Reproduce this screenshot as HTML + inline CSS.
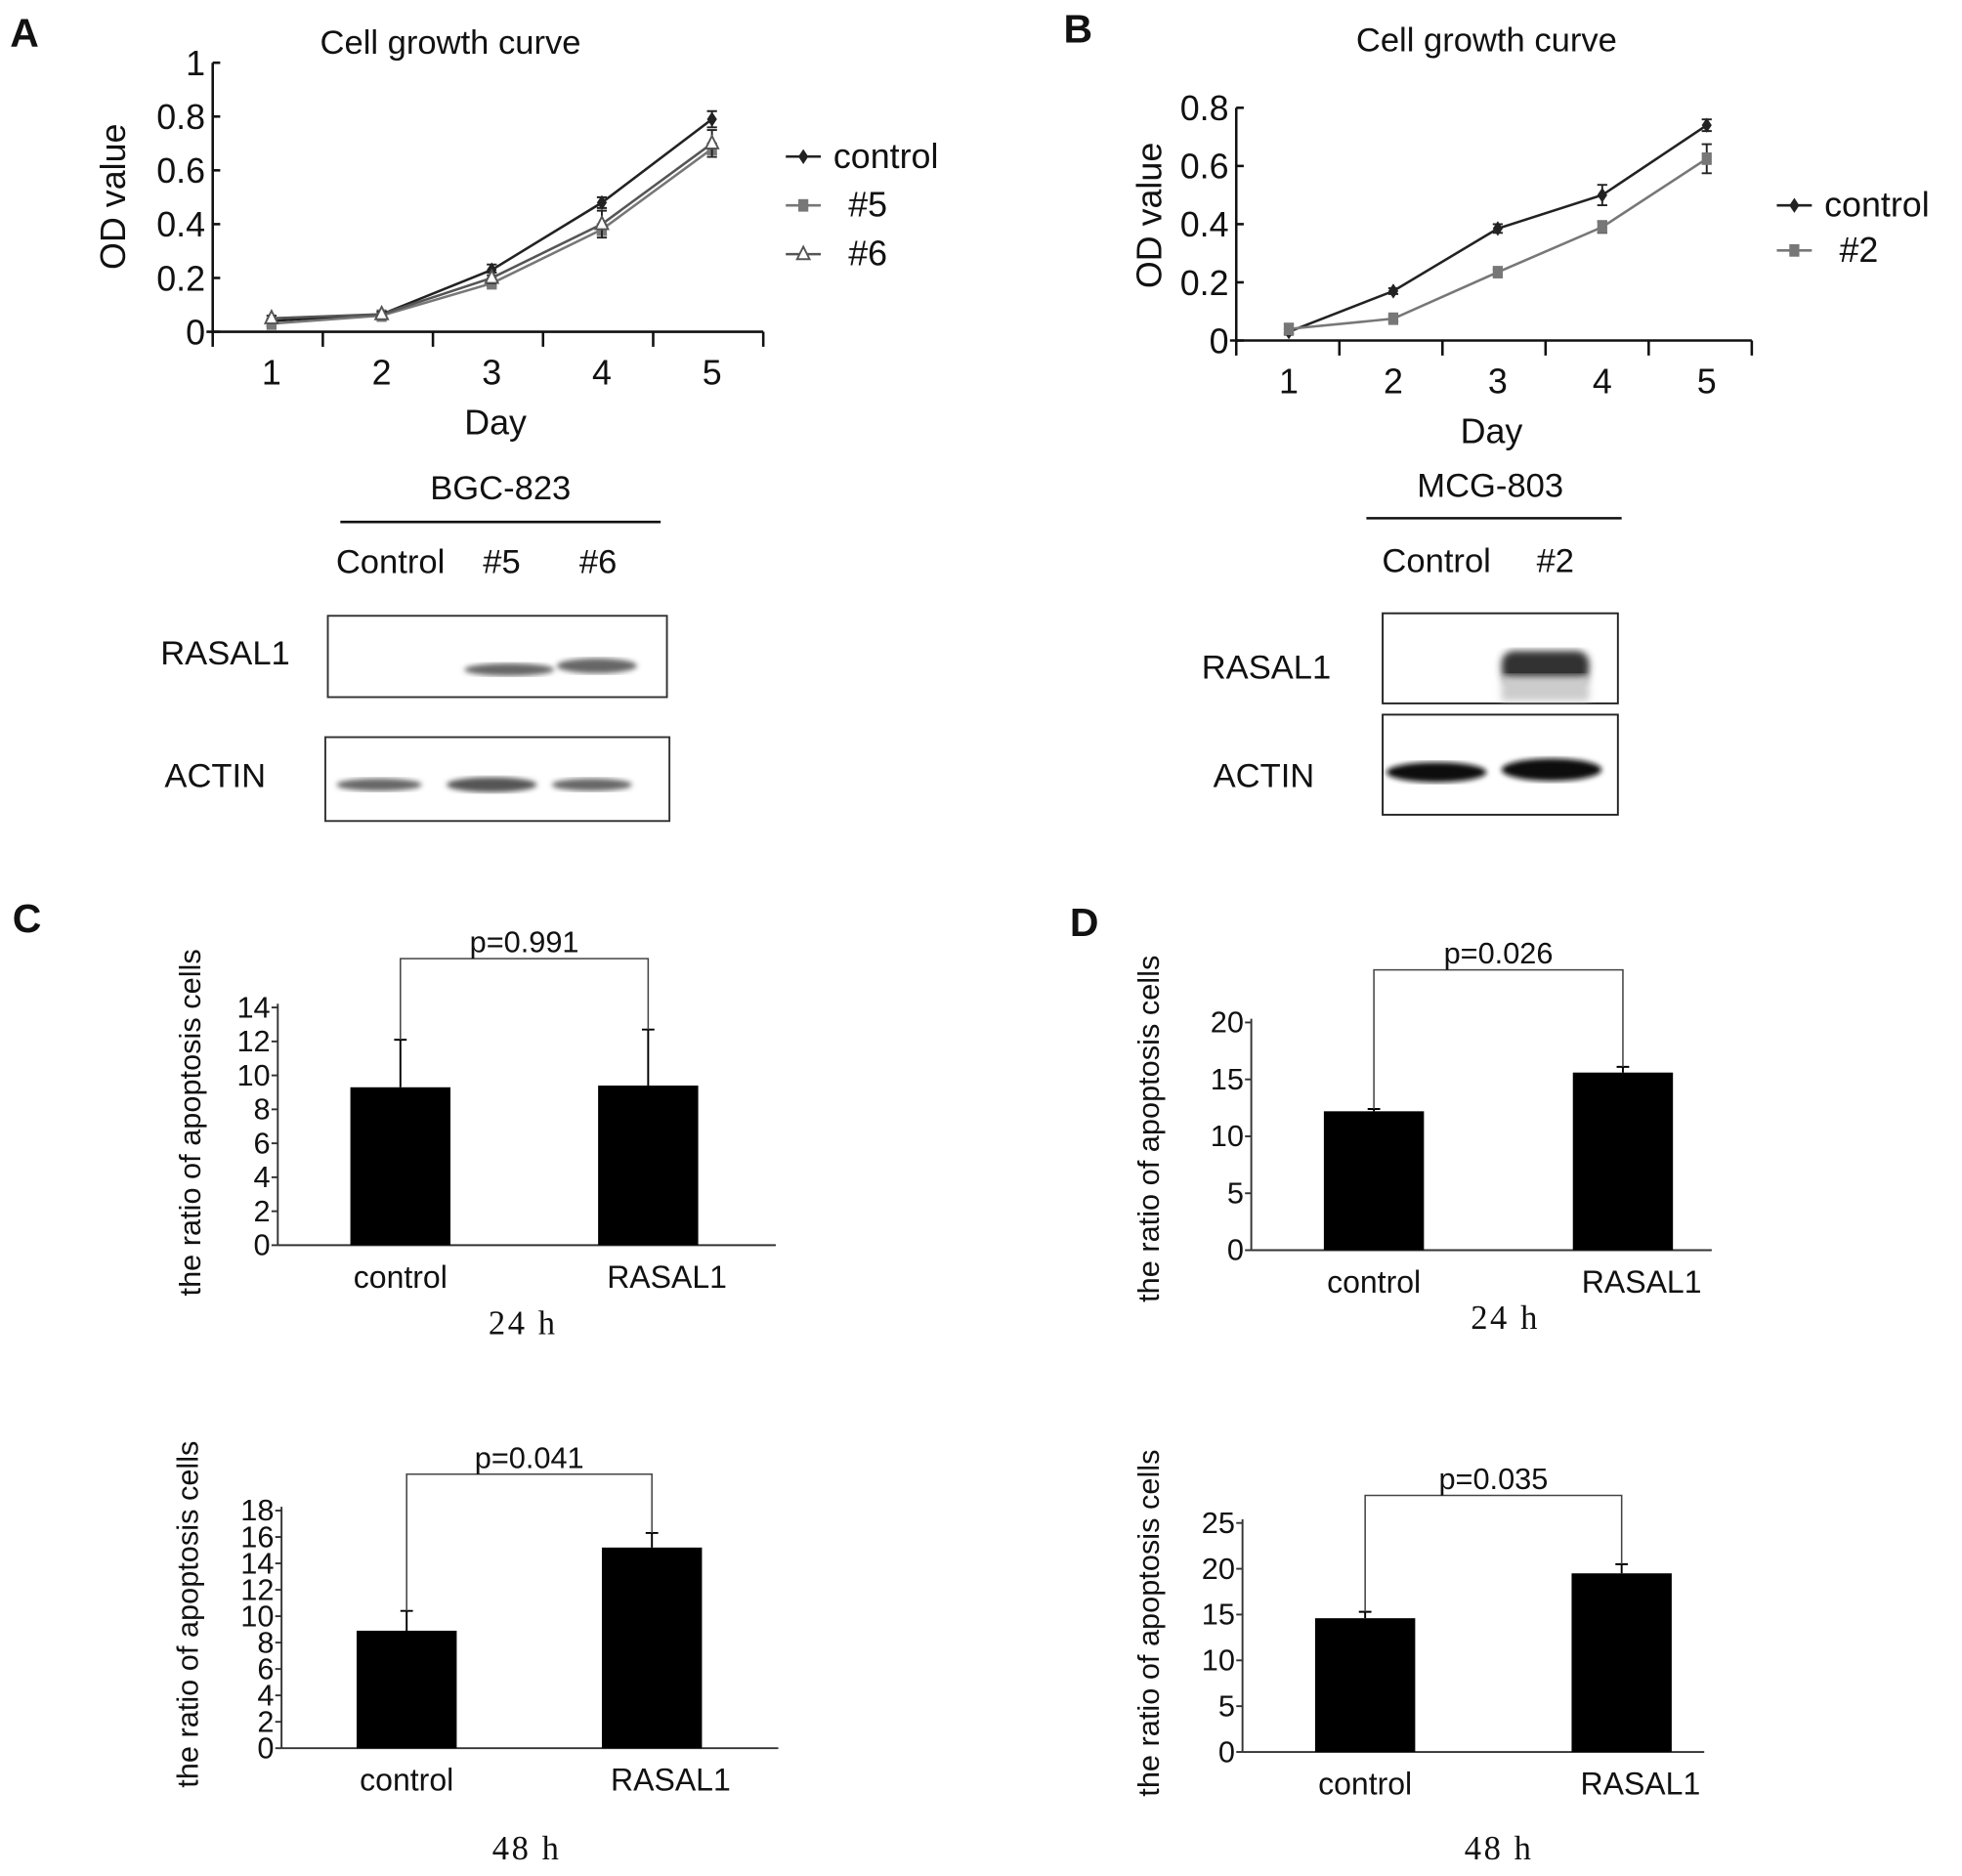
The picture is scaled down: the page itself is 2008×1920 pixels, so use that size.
<!DOCTYPE html>
<html><head><meta charset="utf-8"><style>
html,body{margin:0;padding:0;background:#fff}
svg{display:block}
text{font-family:"Liberation Sans",sans-serif;fill:#111}
.serif{font-family:"Liberation Serif",serif}
</style></head><body>
<svg id="fig" xmlns="http://www.w3.org/2000/svg" width="2008" height="1920" viewBox="0 0 1568 1499">
<defs>
<filter id="blur2"><feGaussianBlur stdDeviation="2"/></filter>
<filter id="blur3"><feGaussianBlur stdDeviation="3"/></filter>
</defs>
<g font-size="32" font-weight="bold">
<text x="8" y="37">A</text>
<text x="850" y="34">B</text>
<text x="10" y="745">C</text>
<text x="855" y="748">D</text>
</g>
<g id="lineA"></g>
<g id="lineB"></g>

<g font-size="27">
<text x="400" y="399" text-anchor="middle">BGC-823</text>
<line x1="272" y1="417" x2="528" y2="417" stroke="#111" stroke-width="2"/>
<text x="312" y="458" text-anchor="middle">Control</text>
<text x="401" y="458" text-anchor="middle">#5</text>
<text x="478" y="458" text-anchor="middle">#6</text>
<text x="180" y="531" text-anchor="middle">RASAL1</text>
<rect x="262" y="492" width="271" height="65" fill="none" stroke="#333" stroke-width="1.5"/>
<ellipse cx="407" cy="535" rx="36" ry="5" fill="#666" filter="url(#blur2)"/>
<ellipse cx="477" cy="532" rx="32" ry="6" fill="#666" filter="url(#blur2)"/>
<text x="172" y="629" text-anchor="middle">ACTIN</text>
<rect x="260" y="589" width="275" height="67" fill="none" stroke="#333" stroke-width="1.5"/>
<ellipse cx="303" cy="627" rx="34" ry="5" fill="#666" filter="url(#blur2)"/>
<ellipse cx="393" cy="627" rx="36" ry="6" fill="#555" filter="url(#blur2)"/>
<ellipse cx="473" cy="627" rx="32" ry="5" fill="#666" filter="url(#blur2)"/>
</g>

<g font-size="27">
<text x="1191" y="397" text-anchor="middle">MCG-803</text>
<line x1="1092" y1="414" x2="1296" y2="414" stroke="#111" stroke-width="2"/>
<text x="1148" y="457" text-anchor="middle">Control</text>
<text x="1243" y="457" text-anchor="middle">#2</text>
<text x="1012" y="542" text-anchor="middle">RASAL1</text>
<rect x="1105" y="490" width="188" height="72" fill="none" stroke="#222" stroke-width="1.5"/>
<rect x="1200" y="520" width="70" height="26" rx="10" fill="#333" filter="url(#blur3)"/>
<rect x="1200" y="540" width="70" height="20" fill="#ccc" filter="url(#blur3)"/>
<text x="1010" y="629" text-anchor="middle">ACTIN</text>
<rect x="1105" y="571" width="188" height="80" fill="none" stroke="#222" stroke-width="1.5"/>
<ellipse cx="1148" cy="617" rx="40" ry="8" fill="#111" filter="url(#blur2)"/>
<ellipse cx="1240" cy="615" rx="40" ry="9" fill="#111" filter="url(#blur2)"/>
</g>

<g id="barC1"></g>
<g id="barC2"></g>
<g id="barD1"></g>
<g id="barD2"></g>
</svg>
<script>
const NS = 'http://www.w3.org/2000/svg';
// ---- data ----
const days = [1, 2, 3, 4, 5];
const aControl = [0.04, 0.065, 0.23, 0.48, 0.79];
const aControlErr = [0.01, 0.01, 0.02, 0.02, 0.03];
const a5 = [0.03, 0.06, 0.18, 0.38, 0.68];
const a5Err = [0.01, 0.01, 0.01, 0.02, 0.02];
const a6 = [0.05, 0.065, 0.2, 0.4, 0.7];
const a6Err = [0.01, 0.01, 0.02, 0.05, 0.05];
const aTicks = ['0', '0.2', '0.4', '0.6', '0.8', '1'];
const bControl = [0.03, 0.17, 0.385, 0.5, 0.74];
const bControlErr = [0.01, 0.01, 0.015, 0.035, 0.02];
const b2 = [0.04, 0.075, 0.235, 0.39, 0.625];
const b2Err = [0.015, 0.01, 0.01, 0.02, 0.05];
const bTicks = ['0', '0.2', '0.4', '0.6', '0.8'];
const barCats = ['control', 'RASAL1'];
const c24 = [9.3, 9.4];
const c24Err = [2.8, 3.3];
const c48 = [8.9, 15.2];
const c48Err = [1.5, 1.1];
const d24 = [12.2, 15.6];
const d24Err = [0.2, 0.5];
const d48 = [14.6, 19.5];
const d48Err = [0.7, 1.0];
const cTicks24 = [0, 2, 4, 6, 8, 10, 12, 14];
const cTicks48 = [0, 2, 4, 6, 8, 10, 12, 14, 16, 18];
const dTicks24 = [0, 5, 10, 15, 20];
const dTicks48 = [0, 5, 10, 15, 20, 25];

function mk(parent, tag, attrs, txt) {
  const e = document.createElementNS(NS, tag);
  for (const k in attrs) e.setAttribute(k, attrs[k]);
  if (txt !== undefined) e.textContent = txt;
  parent.appendChild(e);
  return e;
}

function lineChart(g, o) {
  const sx = d => o.x1 + (d - 1) * o.dx;
  const sy = v => o.y0 - v * o.ky;
  const t = mk(g, 'text', {x: o.titleX, y: o.titleY, 'font-size': 27, 'text-anchor': 'middle'}, 'Cell growth curve');
  
  
  mk(g, 'line', {x1: o.ax, y1: sy(o.tickVals[o.tickVals.length - 1]), x2: o.ax, y2: o.y0, stroke: '#111', 'stroke-width': 2});
  mk(g, 'line', {x1: o.ax - 5, y1: o.y0, x2: o.axEnd, y2: o.y0, stroke: '#111', 'stroke-width': 2});
  o.tickVals.forEach((v, i) => {
    mk(g, 'line', {x1: o.ax, y1: sy(v), x2: o.ax + 6, y2: sy(v), stroke: '#111', 'stroke-width': 2});
    const l = mk(g, 'text', {x: o.ax - 6, y: sy(v) + 10, 'font-size': 28, 'text-anchor': 'end'}, o.tickLabels[i]);
    
    
  });
  for (let i = 0; i <= days.length; i++) {
    const x = o.ax + (o.axEnd - o.ax) * i / days.length;
    mk(g, 'line', {x1: x, y1: o.y0, x2: x, y2: o.y0 + 12, stroke: '#111', 'stroke-width': 2});
  }
  days.forEach(d => {
    const l = mk(g, 'text', {x: sx(d), y: o.y0 + 42, 'font-size': 28, 'text-anchor': 'middle'}, String(d));
    
    
  });
  const xt = mk(g, 'text', {x: o.dayX, y: o.y0 + 82, 'font-size': 28, 'text-anchor': 'middle'}, 'Day');
  
  
  const yt = mk(g, 'text', {x: 0, y: 0, 'font-size': 28, 'text-anchor': 'middle', transform: `translate(${o.ytX},${o.ytY}) rotate(-90)`}, 'OD value');
  
  
  o.series.forEach((s, si) => {
    const sg = mk(g, 'g', {});
    
    
    mk(sg, 'polyline', {points: s.vals.map((v, i) => sx(days[i]) + ',' + sy(v)).join(' '), fill: 'none', stroke: s.color, 'stroke-width': 2});
    s.vals.forEach((v, i) => {
      const x = sx(days[i]), y = sy(v), e = s.err[i] * o.ky;
      mk(sg, 'path', {d: `M${x},${y - e}V${y + e}M${x - 4},${y - e}h8M${x - 4},${y + e}h8`, stroke: '#222', 'stroke-width': 1.5, fill: 'none'});
      const p = markerAt(sg, s.marker, x, y, s.color);
      
      
    });
    const ly = o.legY + si * o.legDy;
    mk(sg, 'line', {x1: o.legX, y1: ly, x2: o.legX + 28, y2: ly, stroke: s.color, 'stroke-width': 2});
    markerAt(sg, s.marker, o.legX + 14, ly, s.color);
    const lt = mk(sg, 'text', {x: o.legX + 38 + (si ? 12 : 0), y: ly + 9, 'font-size': 28}, s.name);
    
    
  });
}
function markerAt(g, m, x, y, c) {
  if (m === 'diamond') return mk(g, 'path', {d: `M${x},${y - 6}L${x + 4},${y}L${x},${y + 6}L${x - 4},${y}Z`, fill: c});
  if (m === 'square') return mk(g, 'rect', {x: x - 4, y: y - 5, width: 8, height: 10, fill: c});
  return mk(g, 'path', {d: `M${x},${y - 6}L${x + 5},${y + 4}L${x - 5},${y + 4}Z`, fill: '#fff', stroke: c, 'stroke-width': 1.5});
}

lineChart(document.getElementById('lineA'), {
  x1: 217, dx: 88, y0: 265, ky: 215, ax: 170, axEnd: 610, titleX: 360, titleY: 43,
  tickVals: [0, 0.2, 0.4, 0.6, 0.8, 1], tickLabels: aTicks, dayX: 396, ytX: 100, ytY: 157,
  legX: 628, legY: 125, legDy: 39,
  series: [
    {name: 'control', vals: aControl, err: aControlErr, color: '#222', marker: 'diamond'},
    {name: '#5', vals: a5, err: a5Err, color: '#777', marker: 'square'},
    {name: '#6', vals: a6, err: a6Err, color: '#555', marker: 'triangle'}
  ]
});
lineChart(document.getElementById('lineB'), {
  x1: 1030, dx: 83.5, y0: 272, ky: 232.5, ax: 988, axEnd: 1400, titleX: 1188, titleY: 41,
  tickVals: [0, 0.2, 0.4, 0.6, 0.8], tickLabels: bTicks, dayX: 1192, ytX: 928, ytY: 172,
  legX: 1420, legY: 164, legDy: 36,
  series: [
    {name: 'control', vals: bControl, err: bControlErr, color: '#222', marker: 'diamond'},
    {name: '#2', vals: b2, err: b2Err, color: '#777', marker: 'square'}
  ]
});

function barChart(g, o) {
  const sy = v => o.y0 - v * o.ky;
  mk(g, 'line', {x1: o.ax, y1: sy(o.ticks[o.ticks.length - 1]) - 3, x2: o.ax, y2: o.y0, stroke: '#333', 'stroke-width': 1.5});
  mk(g, 'line', {x1: o.ax, y1: o.y0, x2: o.axEnd, y2: o.y0, stroke: '#333', 'stroke-width': 1.5});
  o.ticks.forEach(v => {
    mk(g, 'line', {x1: o.ax - 5, y1: sy(v), x2: o.ax, y2: sy(v), stroke: '#333', 'stroke-width': 1.5});
    const l = mk(g, 'text', {x: o.ax - 6, y: sy(v) + 8, 'font-size': 24, 'text-anchor': 'end'}, String(v));
    
    
  });
  const tops = [];
  barCats.forEach((c, i) => {
    const x = o.bx[i], v = o.vals[i], e = o.err[i];
    const r = mk(g, 'rect', {x: x, y: sy(v), width: 80, height: v * o.ky, fill: '#000'});
    
    
    const cx = x + 40;
    mk(g, 'path', {d: `M${cx},${sy(v)}V${sy(v + e)}M${cx - 5},${sy(v + e)}h10`, stroke: '#000', 'stroke-width': 1.5, fill: 'none'});
    tops.push(sy(v + e));
    const l = mk(g, 'text', {x: cx + (i ? 15 : 0), y: o.y0 + 34, 'font-size': 25, 'text-anchor': 'middle'}, c);
    
    
  });
  const x0 = o.bx[0] + 40, x1 = o.bx[1] + 40;
  const br = mk(g, 'path', {d: `M${x0},${tops[0]}V${o.brY}H${x1}V${tops[1]}`, fill: 'none', stroke: '#444', 'stroke-width': 1.2});
  
  
  const p = mk(g, 'text', {x: (x0 + x1) / 2, y: o.brY - 5, 'font-size': 24, 'text-anchor': 'middle'}, o.p);
  
  
  const h = mk(g, 'text', {x: o.hX, y: o.hY, 'font-size': 27, 'text-anchor': 'middle', class: 'serif', 'letter-spacing': '2'}, o.h);
  
  
  const yt = mk(g, 'text', {x: 0, y: 0, 'font-size': 24, 'text-anchor': 'middle', transform: `translate(${o.ytX},${o.ytY}) rotate(-90)`}, 'the ratio of apoptosis cells');
  
  
}
barChart(document.getElementById('barC1'), {y0: 995, ky: 13.57, ax: 222, axEnd: 620, ticks: cTicks24, vals: c24, err: c24Err, bx: [280, 478], brY: 766, p: 'p=0.991', h: '24 h', hX: 418, hY: 1066, ytX: 160, ytY: 897});
barChart(document.getElementById('barC2'), {y0: 1397, ky: 10.55, ax: 225, axEnd: 622, ticks: cTicks48, vals: c48, err: c48Err, bx: [285, 481], brY: 1178, p: 'p=0.041', h: '48 h', hX: 421, hY: 1486, ytX: 158, ytY: 1290});
barChart(document.getElementById('barD1'), {y0: 999, ky: 9.1, ax: 1000, axEnd: 1368, ticks: dTicks24, vals: d24, err: d24Err, bx: [1058, 1257], brY: 775, p: 'p=0.026', h: '24 h', hX: 1203, hY: 1062, ytX: 926, ytY: 902});
barChart(document.getElementById('barD2'), {y0: 1400, ky: 7.32, ax: 993, axEnd: 1362, ticks: dTicks48, vals: d48, err: d48Err, bx: [1051, 1256], brY: 1195, p: 'p=0.035', h: '48 h', hX: 1198, hY: 1486, ytX: 926, ytY: 1297});
</script>
</body></html>
